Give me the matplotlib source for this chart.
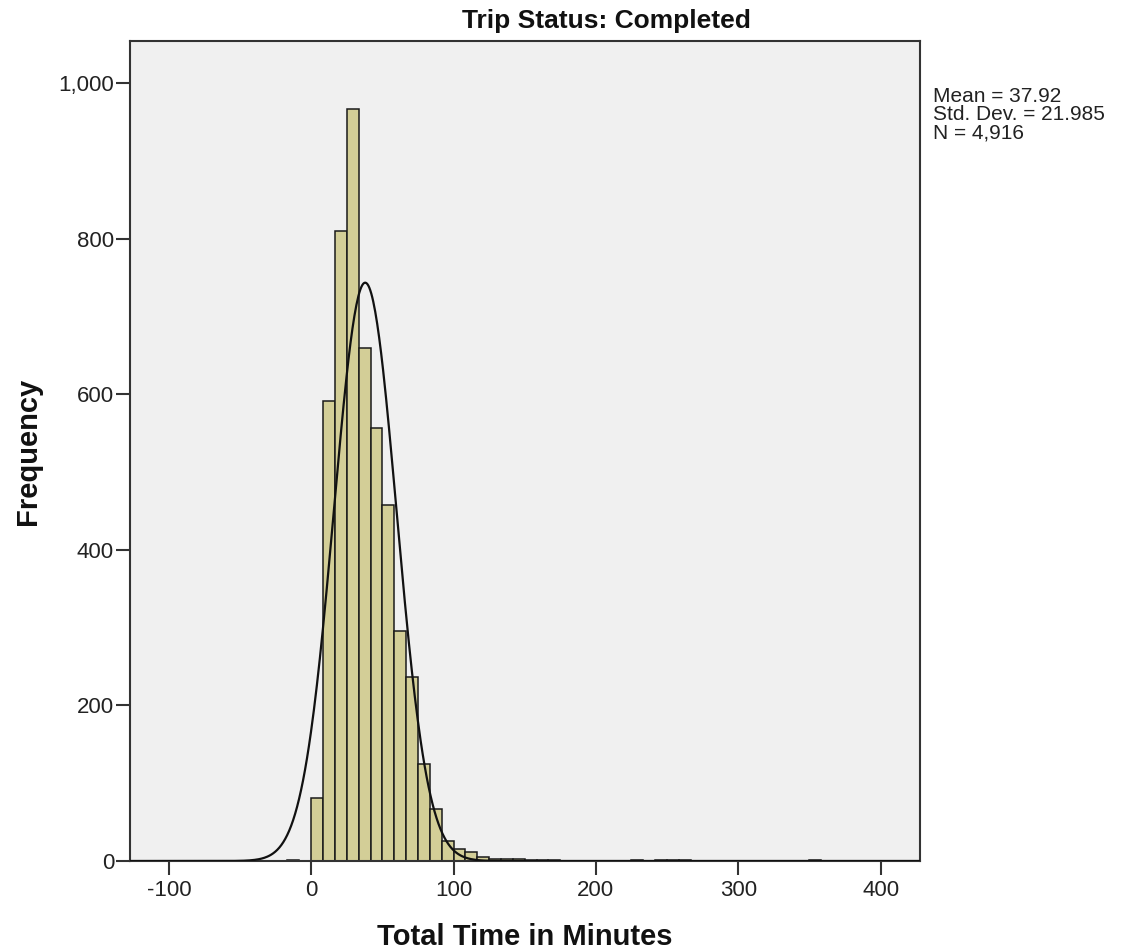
import numpy as np
import matplotlib
matplotlib.use('Agg')
import matplotlib.pyplot as plt
from matplotlib.ticker import FuncFormatter

plt.rcParams['font.family'] = ['Liberation Sans', 'DejaVu Sans']
plt.rcParams['axes.unicode_minus'] = False

# histogram (bin width = 100/12 minutes)
bin_width = 100 / 12
bin_index = [-2, 0, 1, 2, 3, 4, 5, 6, 7, 8, 9, 10, 11, 12, 13, 14, 15,
             16, 17, 18, 19, 20, 27, 29, 30, 31, 42]
frequency = [1, 81, 591, 810, 967, 660, 556, 457, 295, 237, 125, 67, 26, 15, 12, 5, 3,
             2, 2, 1, 1, 1, 1, 1, 1, 1, 1]

# summary statistics shown at the right
mean_val = 37.92
std_val = 21.985
n_val = 4916

x_ticks = [-100, 0, 100, 200, 300, 400]
y_ticks = [0, 200, 400, 600, 800, 1000]

W, H = 1122, 950
fig = plt.figure(figsize=(W / 100, H / 100), dpi=100)
ax = fig.add_axes([130 / W, 89 / H, 790 / W, 820 / H])
ax.set_facecolor('#F0F0F0')

bin_left = np.array(bin_index) * bin_width
ax.bar(bin_left, frequency, width=bin_width, align='edge',
       color='#D3CE97', edgecolor='#1a1a1a', linewidth=1.1, zorder=2)

# normal curve from the stats
xs = np.linspace(-127.3, 427.7, 800)
pdf = np.exp(-0.5 * ((xs - mean_val) / std_val) ** 2) / (std_val * np.sqrt(2 * np.pi))
ax.plot(xs, n_val * bin_width * pdf, color='#111111', linewidth=1.6, zorder=3)

ax.set_xlim(-127.3, 427.7)
ax.set_ylim(0, 1054)
ax.set_xticks(x_ticks)
ax.set_yticks(y_ticks)
ax.yaxis.set_major_formatter(FuncFormatter(lambda v, p: f'{int(v):,}'))
ax.tick_params(axis='both', direction='out', length=10, width=1.5,
               color='#333333', labelsize=16, labelcolor='#222222')
ax.tick_params(axis='y', pad=1.5)
ax.tick_params(axis='x', pad=4)
for s in ax.spines.values():
    s.set_color('#333333')
    s.set_linewidth(1.5)

fig.text(606 / W, 1 - 28 / H, 'Trip Status: Completed', ha='center', va='baseline',
         fontsize=19, fontweight='bold', color='#111111')
fig.text(525 / W, 1 - 945 / H, 'Total Time in Minutes', ha='center', va='baseline',
         fontsize=21, fontweight='bold', color='#111111')
fig.text(28 / W, 1 - 451 / H, 'Frequency', ha='center', va='center', rotation=90,
         fontsize=21, fontweight='bold', color='#111111')

stats_lines = [f'Mean = {mean_val}', f'Std. Dev. = {std_val}', f'N = {n_val:,}']
for line, base in zip(stats_lines, [102, 120.5, 138.5]):
    fig.text(933 / W, 1 - base / H, line, ha='left', va='baseline',
             fontsize=15, color='#222222')

fig.savefig('out.png', dpi=100)
